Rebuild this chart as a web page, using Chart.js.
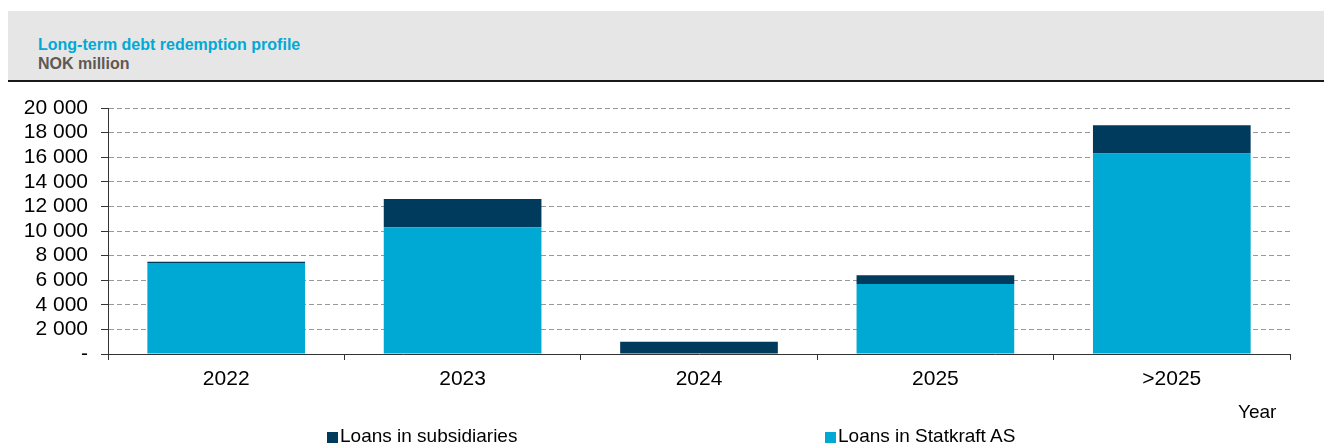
<!DOCTYPE html>
<html>
<head>
<meta charset="utf-8">
<script src="https://cdn.jsdelivr.net/npm/chart.js@4/dist/chart.umd.min.js"></script>
<style>
  html, body { margin: 0; padding: 0; background: #fff; }
  body { width: 1324px; height: 448px; position: relative; overflow: hidden; font-family: 'Liberation Sans', Arial, sans-serif; }
  #head { position: absolute; left: 8px; top: 11px; width: 1316px; height: 69px; background: #e6e6e6; border-bottom: 2px solid #1a1a1a; }
  #title { position: absolute; left: 30px; top: 25px; font-size: 16px; font-weight: bold; color: #00a9d6; }
  #unit { position: absolute; left: 30px; top: 44px; font-size: 16px; font-weight: bold; color: #5e5953; }
  #chartBox { position: absolute; left: 0; top: 0; width: 1324px; height: 448px; }
  .lbl { position: absolute; font-size: 19px; color: #000; white-space: nowrap; }
  .sw { display: inline-block; width: 11px; height: 11px; margin-right: 2px; vertical-align: -1px; }
</style>
</head>
<body>
<div id="head">
  <div id="title">Long-term debt redemption profile</div>
  <div id="unit">NOK million</div>
</div>
<div id="chartBox"><canvas id="debtChart"></canvas></div>
<div class="lbl" style="left:1238px; top:401px;">Year</div>
<div class="lbl" id="leg1" style="left:327px; top:425px;"></div>
<div class="lbl" id="leg2" style="left:825px; top:425px;"></div>
<script>
'use strict';
const $ = id => document.getElementById(id);

const years = ['2022', '2023', '2024', '2025', '>2025'];
const loansStatkraft = [7400, 10300, 0, 5700, 16300];
const loansSubsidiaries = [100, 2300, 1000, 700, 2300];
const seriesNames = ['Loans in subsidiaries', 'Loans in Statkraft AS'];
const colSubs = '#003a5d';
const colStatkraft = '#00a8d4';

// legend in html, two items spread apart like the original
$('leg1').innerHTML = `<span class="sw" style="background:${colSubs}"></span>${seriesNames[0]}`;
$('leg2').innerHTML = `<span class="sw" style="background:${colStatkraft}"></span>${seriesNames[1]}`;

const fmt = v => v === 0 ? '-' : v.toLocaleString('en-US').replace(/,/g, ' ');

new Chart($('debtChart').getContext('2d'), {
  type: 'bar',
  data: {
    labels: years,
    datasets: [
      { label: seriesNames[1], data: loansStatkraft, backgroundColor: colStatkraft, borderWidth: 0 },
      { label: seriesNames[0], data: loansSubsidiaries, backgroundColor: colSubs, borderWidth: 0 }
    ]
  },
  options: {
    responsive: true,
    maintainAspectRatio: false,
    animation: false,
    datasets: { bar: { categoryPercentage: 0.667, barPercentage: 1 } },
    layout: { padding: { left: 0, right: 34, top: 108, bottom: 0 } },
    plugins: { legend: { display: false }, tooltip: { enabled: false } },
    scales: {
      x: {
        stacked: true,
        afterFit: s => { s.height = 94; },
        grid: { drawOnChartArea: false, drawTicks: true, tickLength: 6, tickColor: '#333' },
        border: { color: '#333', width: 1 },
        ticks: { color: '#000', font: { family: 'Liberation Sans', size: 21 }, padding: 7 }
      },
      y: {
        stacked: true,
        min: 0,
        max: 20000,
        afterFit: s => { s.width = 108; },
        ticks: { stepSize: 2000, autoSkip: false, color: '#000', font: { family: 'Liberation Sans', size: 21 }, padding: 13, callback: v => fmt(v) },
        grid: { color: '#999', tickColor: '#333', tickLength: 7, lineWidth: 1 },
        border: { color: '#333', width: 1, dash: [5, 3] }
      }
    }
  }
});
</script>
</body>
</html>
